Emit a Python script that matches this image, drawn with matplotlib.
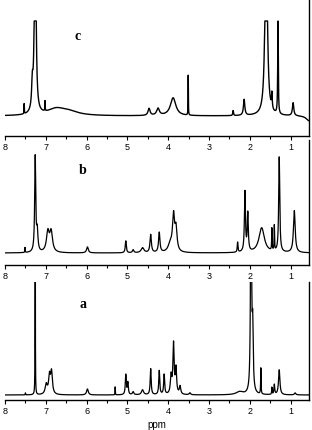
import numpy as np
import matplotlib
matplotlib.use("Agg")
import matplotlib.pyplot as plt
from matplotlib.ticker import MultipleLocator

# ---- data: peak tables (ppm, height, half width) ----
c_ppm    = [7.53, 7.33, 7.26, 7.02, 6.75, 6.45, 4.47, 4.25, 3.88, 3.51, 2.41, 2.14, 1.60, 1.46, 1.31, 0.94, 0.55]
c_height = [10, 25, 250, 10, 6, 4, 7, 7, 18, 40, 5, 16, 220, 15, 95, 13, -5]
c_width  = [0.004, 0.02, 0.02, 0.004, 0.25, 0.3, 0.03, 0.04, 0.08, 0.004, 0.01, 0.02, 0.03, 0.01, 0.008, 0.02, 0.08]
c_cap = 95

b_ppm    = [7.51, 7.26, 7.21, 6.95, 6.87, 5.98, 5.04, 4.86, 4.63, 4.43, 4.22, 3.87, 3.81, 3.95,
            2.30, 2.12, 2.05, 1.71, 1.46, 1.40, 1.28, 0.91]
b_height = [5, 95, 20, 20, 20, 6, 12, 3, 5, 18, 20, 35, 22, 8, 10, 60, 38, 25, 22, 25, 95, 42]
b_width  = [0.005, 0.015, 0.02, 0.04, 0.04, 0.025, 0.015, 0.02, 0.04, 0.02, 0.02, 0.03, 0.03, 0.06,
            0.01, 0.015, 0.015, 0.08, 0.006, 0.006, 0.015, 0.025]

a_ppm    = [7.50, 7.26, 6.99, 6.91, 6.86, 5.98, 5.30, 5.04, 4.99, 4.86, 4.63, 4.43, 4.22, 4.10,
            3.93, 3.87, 3.81, 3.71, 3.47, 2.25, 1.97, 1.93, 1.73, 1.46, 1.40, 1.28, 0.89]
a_height = [2, 300, 10, 18, 22, 6, 8, 20, 12, 3, 5, 26, 24, 20, 18, 50, 25, 8, 2, 3, 300, 60, 26, 7, 10, 25, 2]
a_width  = [0.005, 0.003, 0.03, 0.025, 0.025, 0.025, 0.004, 0.014, 0.014, 0.02, 0.03, 0.014, 0.014, 0.014,
            0.02, 0.018, 0.018, 0.02, 0.02, 0.1, 0.012, 0.015, 0.006, 0.006, 0.012, 0.02, 0.02]

tick_values = [8, 7, 6, 5, 4, 3, 2, 1]
panel_labels = ["c", "b", "a"]


def spectrum(x, ppm, height, width):
    y = np.zeros_like(x)
    for p, h, w in zip(ppm, height, width):
        y += h / (1.0 + ((x - p) / w) ** 2)
    return y


x = np.linspace(8.0, 0.55, 12000)
yc = np.minimum(spectrum(x, c_ppm, c_height, c_width), c_cap)
yb = spectrum(x, b_ppm, b_height, b_width)
ya = spectrum(x, a_ppm, a_height, a_width)

W, H = 312, 431
fig = plt.figure(figsize=(W / 100, H / 100), dpi=100)
fig.patch.set_facecolor("white")


def make_ax(top_px, bottom_px):
    left, right = 5, 309
    return fig.add_axes([left / W, 1 - bottom_px / H, (right - left) / W, (bottom_px - top_px) / H])


panels = [
    (make_ax(0, 137), yc, (-20, 117), panel_labels[0], (6.21, 80), 1.0),
    (make_ax(141, 266), yb, (-12, 113), panel_labels[1], (6.09, 84), 0.9),
    (make_ax(283, 401), ya, (-5, 113), panel_labels[2], (6.09, 92), 0.9),
]

for ax, y, ylim, lab, pos, lw in panels:
    ax.plot(x, y, color="black", lw=lw)
    ax.set_xlim(8.0, 0.55)
    ax.set_ylim(*ylim)
    for s in ["top", "left"]:
        ax.spines[s].set_visible(False)
    ax.spines["bottom"].set_linewidth(1.0)
    ax.spines["right"].set_linewidth(1.0)
    ax.set_yticks([])
    ax.set_xticks(tick_values)
    ax.set_xticklabels([str(t) for t in tick_values], fontsize=6.5, family="Liberation Sans")
    ax.xaxis.set_minor_locator(MultipleLocator(0.5))
    ax.tick_params(axis="x", which="major", direction="out", length=3, width=0.8, pad=1.5)
    ax.tick_params(axis="x", which="minor", direction="out", length=1.8, width=0.8)
    ax.patch.set_alpha(0)
    ax.text(pos[0], pos[1], lab, fontsize=10, fontweight="bold", family="Liberation Serif",
            ha="center", va="center")

panels[2][0].set_xlabel("ppm", fontsize=7, family="Liberation Sans", labelpad=3)

fig.savefig("out.png", dpi=100)
